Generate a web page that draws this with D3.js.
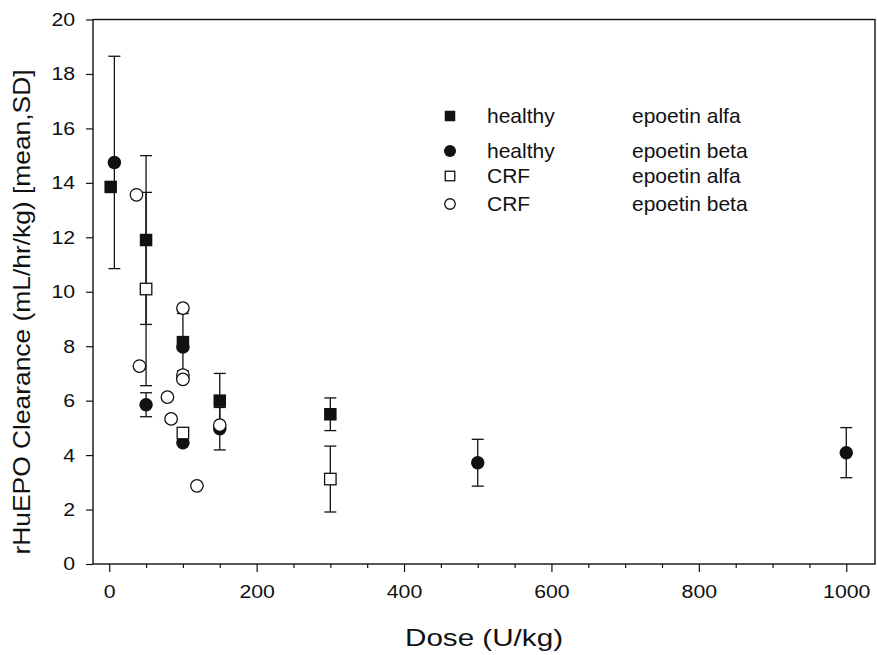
<!DOCTYPE html>
<html>
<head>
<meta charset="utf-8">
<script src="https://cdn.jsdelivr.net/npm/d3@7/dist/d3.min.js"></script>
<style>
  html, body { margin: 0; padding: 0; background: #fff; }
  svg { display: block; }
  text { font-family: Arial, "Liberation Sans", Helvetica, sans-serif; fill: #111; }
</style>
</head>
<body>
<svg id="chart" width="877" height="655"></svg>
<script>
// ---- data ----
const healthyAlfaDose = [2, 50, 100, 150, 300];
const healthyAlfaMean = [13.85, 11.9, 8.15, 6.0, 5.5];
const healthyAlfaSD   = [null, 3.1, 1.05, 1.0, 0.6];

const healthyBetaDose = [7, 50, 100, 100, 150, 500, 1000];
const healthyBetaMean = [14.75, 5.85, 7.97, 4.45, 4.97, 3.72, 4.09];
const healthyBetaSD   = [3.9, 0.44, null, null, 0.78, 0.86, 0.92];

const crfAlfaDose = [50, 100, 300];
const crfAlfaMean = [10.1, 4.81, 3.12];
const crfAlfaSD   = [3.55, null, 1.21];

const crfBetaDose = [37, 41, 79, 84, 100, 100, 100, 119, 150];
const crfBetaMean = [13.56, 7.27, 6.13, 5.33, 9.4, 6.94, 6.78, 2.87, 5.1];

const xTicks = [0, 200, 400, 600, 800, 1000];
const xMinorTicks = d3.range(0, 1001, 50);
const yTicks = [0, 2, 4, 6, 8, 10, 12, 14, 16, 18, 20];

const legendGroups = ["healthy", "healthy", "CRF", "CRF"];
const legendDrugs = ["epoetin alfa", "epoetin beta", "epoetin alfa", "epoetin beta"];
const legendShapes = ["filledSquare", "filledCircle", "openSquare", "openCircle"];

const xTitle = "Dose (U/kg)";
const yTitle = "rHuEPO Clearance (mL/hr/kg) [mean,SD]";

// ---- layout ----
const svg = d3.select("#chart");
const mLeft = 93, mRight = 875, mTop = 19.5, mBottom = 564;

const x = d3.scaleLinear().domain([-22, 1039]).range([mLeft, mRight]);
const y = d3.scaleLinear().domain([0, 20]).range([mBottom, mTop]);

const zip = (d, m, s) => d.map((v, i) => ({dose: v, mean: m[i], sd: s ? s[i] : null}));
const hA = zip(healthyAlfaDose, healthyAlfaMean, healthyAlfaSD);
const hB = zip(healthyBetaDose, healthyBetaMean, healthyBetaSD);
const cA = zip(crfAlfaDose, crfAlfaMean, crfAlfaSD);
const cB = zip(crfBetaDose, crfBetaMean, null);

// axes
const stretch = 1.15;
const xAxis = d3.axisBottom(x).tickValues(xTicks).tickSize(8).tickPadding(13).tickFormat(d3.format("d"));
const xMinor = d3.axisBottom(x).tickValues(xMinorTicks.filter(v => v % 200 !== 0)).tickSize(4).tickFormat("");
const yAxis = d3.axisLeft(y).tickValues(yTicks).tickSize(7).tickPadding(8.5).tickFormat(d3.format("d"));

const gx = svg.append("g").attr("transform", `translate(0,${mBottom})`).call(xAxis);
const gxm = svg.append("g").attr("transform", `translate(0,${mBottom})`).call(xMinor);
const gy = svg.append("g").attr("transform", `translate(${mLeft},0)`).call(yAxis);
[gx, gxm, gy].forEach(g => {
  g.select(".domain").remove();
  g.selectAll("line").attr("stroke", "#111").attr("stroke-width", 1.2);
  g.selectAll("text").style("font-size", "18.5px").attr("fill", "#111")
    .attr("transform", `scale(${stretch},1)`);
});

// frame
svg.append("rect").attr("x", mLeft).attr("y", mTop).attr("width", mRight - mLeft).attr("height", mBottom - mTop)
  .attr("fill", "none").attr("stroke", "#111").attr("stroke-width", 1.4);

// titles
svg.append("text").attr("x", 484).attr("y", 646).attr("text-anchor", "middle")
  .attr("textLength", 158).attr("lengthAdjust", "spacingAndGlyphs")
  .style("font-size", "24px").text(xTitle);
svg.append("text").attr("transform", `translate(30,312) rotate(-90)`)
  .attr("text-anchor", "middle")
  .attr("textLength", 485).attr("lengthAdjust", "spacingAndGlyphs")
  .style("font-size", "24px").text(yTitle);

// error bars
const capW = 6;
function errorBars(data) {
  const g = svg.append("g").attr("stroke", "#111").attr("stroke-width", 1.3);
  data.filter(d => d.sd != null).forEach(d => {
    const cx = x(d.dose), y1 = y(d.mean + d.sd), y2 = y(d.mean - d.sd);
    g.append("line").attr("x1", cx).attr("x2", cx).attr("y1", y1).attr("y2", y2);
    g.append("line").attr("x1", cx - capW).attr("x2", cx + capW).attr("y1", y1).attr("y2", y1);
    g.append("line").attr("x1", cx - capW).attr("x2", cx + capW).attr("y1", y2).attr("y2", y2);
  });
}
errorBars(hB); errorBars(hA); errorBars(cA);

// markers
function drawShape(g, shape, cx, cy, size) {
  const h = size / 2;
  if (shape === "filledSquare") {
    g.append("rect").attr("x", cx - h).attr("y", cy - h).attr("width", size).attr("height", size).attr("fill", "#111");
  } else if (shape === "openSquare") {
    g.append("rect").attr("x", cx - h).attr("y", cy - h).attr("width", size).attr("height", size)
      .attr("fill", "#fff").attr("stroke", "#111").attr("stroke-width", 1.3);
  } else if (shape === "filledCircle") {
    g.append("circle").attr("cx", cx).attr("cy", cy).attr("r", h).attr("fill", "#111");
  } else {
    g.append("circle").attr("cx", cx).attr("cy", cy).attr("r", h)
      .attr("fill", "#fff").attr("stroke", "#111").attr("stroke-width", 1.3);
  }
}
const gm = svg.append("g");
hB.forEach(d => drawShape(gm, "filledCircle", x(d.dose), y(d.mean), 13.5));
hA.forEach(d => drawShape(gm, "filledSquare", x(d.dose), y(d.mean), 12.5));
cA.forEach(d => drawShape(gm, "openSquare", x(d.dose), y(d.mean), 11.5));
cB.forEach(d => drawShape(gm, "openCircle", x(d.dose), y(d.mean), 12.5));

// legend
const legendRowsY = [116, 151, 176, 204];
const legendSizes = [10.5, 12, 9.5, 10.5];
const gl = svg.append("g");
legendShapes.forEach((s, i) => {
  drawShape(gl, s, 450, legendRowsY[i], legendSizes[i]);
  gl.append("text").attr("x", 487).attr("y", legendRowsY[i] + 7).style("font-size", "21px").text(legendGroups[i]);
  gl.append("text").attr("x", 632).attr("y", legendRowsY[i] + 7).style("font-size", "21px").text(legendDrugs[i]);
});
</script>
</body>
</html>
